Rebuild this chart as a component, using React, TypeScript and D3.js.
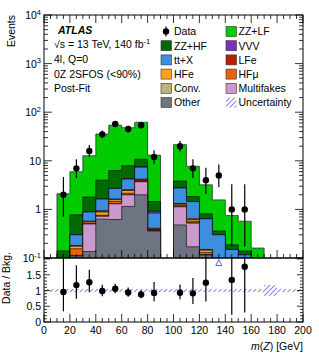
import React from 'react'
import * as d3 from 'd3'

// bins (lower edges, 10 GeV wide)
const binLow = [10, 20, 30, 40, 50, 60, 70, 80, 90, 100, 110, 120, 130, 140, 150, 160, 170]
const binWidth = 10

// stacked backgrounds, bottom to top
const keys = ['Other', 'Multifakes', 'Conv.', 'HFμ', 'HFe', 'LFe', 'tt+X', 'VVV', 'ZZ+HF', 'ZZ+LF']
const other = [0.01, 0.11, 0.136, 0.63, 0.62, 1.15, 2.0, 0.36, 0, 0.48, 0.17, 0.115, 0.03, 0.02, 0.06, 0.02, 0.002]
const multifakes = [0.005, 0.002, 0.364, 0.09, 0.68, 0.85, 1.7, 0.005, 0, 0.65, 0.35, 0.002, 0.01, 0.005, 0.03, 0, 0]
const conv = [0, 0.001, 0.005, 0.01, 0.02, 0.03, 0.02, 0.005, 0, 0.02, 0.01, 0.001, 0, 0, 0, 0, 0]
const hfmu = [0.005, 0.042, 0.015, 0.03, 0.13, 0.12, 0.05, 0.005, 0, 0.05, 0.03, 0.012, 0.005, 0, 0.005, 0, 0]
const hfe = [0.005, 0.02, 0.035, 0.12, 0.13, 0.3, 0.08, 0.01, 0, 0.08, 0.05, 0.015, 0.005, 0, 0.005, 0, 0]
const lfe = [0, 0.005, 0.02, 0.06, 0.06, 0.1, 0.35, 0.025, 0, 0.04, 0.03, 0.005, 0, 0, 0, 0, 0]
const ttx = [0.02, 0.12, 0.31, 0.69, 1.06, 1.65, 3.2, 0.43, 0, 1.43, 0.81, 0.49, 0.25, 0.125, 0.016, 0.03, 0.002]
const vvv = [0, 0.002, 0.01, 0.01, 0.02, 0.05, 0.1, 0.08, 0, 0.02, 0.01, 0.005, 0, 0, 0, 0, 0]
const zzhf = [0.095, 0.47, 0.9, 2.36, 3.58, 3.65, 3.3, 0.53, 0, 1.08, 0.38, 0.165, 0.06, 0.037, 0.024, 0.03, 0.002]
const zzlf = [1.96, 5.2, 10.9, 31.5, 47.7, 40.1, 51.2, 11.55, 0, 17.65, 5.86, 2.39, 1.21, 0.563, 0.43, 0.08, 0.006]
const series = [other, multifakes, conv, hfmu, hfe, lfe, ttx, vvv, zzhf, zzlf]
const colors = ['#6f7482', '#cc99cc', '#bdb27b', '#e8620c', '#ffa31a', '#c01c00', '#3c8edf', '#7a2fbd', '#006a00', '#00cc00']

// data with poisson intervals
const data = [2, 7, 16, 35, 57, 45, 54, 12, null, 20, 7, 4, 5, 1, 1, null, null]
const dataLo = [0.71, 4.42, 12.0, 29.1, 49.4, 38.3, 46.6, 8.6, null, 15.6, 4.42, 2.09, 2.84, 0.17, 0.17, null, null]
const dataHi = [4.64, 10.77, 21.1, 41.9, 65.6, 52.7, 62.4, 16.5, null, 25.6, 10.77, 7.16, 8.38, 3.3, 3.3, null, null]

// relative uncertainty of the total background
const uncMain = [0.03, 0.03, 0.03, 0.03, 0.03, 0.03, 0.03, 0.03, 0, 0.03, 0.03, 0.03, 0.03, 0.03, 0.03, 0.03, 0]
const ratioBinLow = [0, 10, 20, 30, 40, 50, 60, 70, 80, 90, 100, 110, 120, 130, 140, 150, 160, 170, 180, 190]
const uncRatio = [0.05, 0.05, 0.05, 0.05, 0.05, 0.05, 0.05, 0.05, 0.05, 0.05, 0.05, 0.05, 0.05, 0.05, 0.05, 0.05, 0.05, 0.17, 0.05, 0.05]

const xTicks = [0, 20, 40, 60, 80, 100, 120, 140, 160, 180, 200]
const yDecades = [0.1, 1, 10, 100, 1000, 10000]
const yDecadeLabels = [['10', '-1'], ['1', ''], ['10', ''], ['10', '2'], ['10', '3'], ['10', '4']]
const ratioTicks = [0, 0.5, 1, 1.5]

const legendLeft = ['Data', 'ZZ+HF', 'tt+X', 'HFe', 'Conv.', 'Other']
const legendRight = ['ZZ+LF', 'VVV', 'LFe', 'HFμ', 'Multifakes', 'Uncertainty']

const W = 319, H = 360
const L = 44, R = 303
const mainTop = 15, mainBot = 258
const ratioTop = 258, ratioBot = 322
const font = '"Liberation Sans", Arial, Helvetica, sans-serif'
const fs = 10.5
const hatchColor = '#7272ff'

const App = () => {
  const x = d3.scaleLinear().domain([0, 200]).range([L, R])
  const y = d3.scaleLog().domain([0.1, 1e4]).range([mainBot, mainTop])
  const yr = d3.scaleLinear().domain([0, 2]).range([ratioBot, 259])

  const rows = binLow.map((_, i) => {
    const o: any = {}
    keys.forEach((k, j) => (o[k] = series[j][i]))
    return o
  })
  const stacked = d3.stack().keys(keys)(rows)
  const total = binLow.map((_, i) => stacked[keys.length - 1][i][1])

  const yBase = mainBot + 6
  const stepPath = (tops: number[]) => {
    let p = `M${x(binLow[0])},${yBase}`
    tops.forEach((t, i) => {
      const yy = t > 0 ? Math.min(y(t), yBase) : yBase
      p += `L${x(binLow[i])},${yy}L${x(binLow[i] + binWidth)},${yy}`
    })
    p += `L${x(binLow[binLow.length - 1] + binWidth)},${yBase}Z`
    return p
  }

  const majorLen = 8, minorLen = 4
  const xMinor = d3.range(0, 201, 5).filter(v => v % 20 !== 0)
  const yMinor: number[] = []
  yDecades.slice(0, -1).forEach(d => d3.range(2, 10).forEach(m => yMinor.push(m * d)))
  const rMinor = d3.range(0.1, 2, 0.1).filter(v => Math.abs(v * 2 - Math.round(v * 2)) > 0.01)

  const ticks: JSX.Element[] = []
  const tk = (x1: number, y1: number, x2: number, y2: number) =>
    ticks.push(<line key={ticks.length} x1={x1} y1={y1} x2={x2} y2={y2} stroke="#000" strokeWidth={0.8} />)
  // x ticks on main (bottom+top) and ratio (bottom)
  xTicks.forEach(v => {
    tk(x(v), mainBot, x(v), mainBot - majorLen)
    tk(x(v), mainTop, x(v), mainTop + majorLen)
    tk(x(v), ratioBot, x(v), ratioBot - majorLen)
  })
  xMinor.forEach(v => {
    tk(x(v), mainBot, x(v), mainBot - minorLen)
    tk(x(v), mainTop, x(v), mainTop + minorLen)
    tk(x(v), ratioBot, x(v), ratioBot - minorLen)
  })
  yDecades.forEach(v => {
    tk(L, y(v), L + majorLen, y(v))
    tk(R, y(v), R - majorLen, y(v))
  })
  yMinor.forEach(v => {
    tk(L, y(v), L + minorLen, y(v))
    tk(R, y(v), R - minorLen, y(v))
  })
  ;[0, 0.5, 1, 1.5, 2].forEach(v => {
    tk(L, yr(v), L + 6, yr(v))
    tk(R, yr(v), R - 6, yr(v))
  })
  rMinor.forEach(v => {
    tk(L, yr(v), L + 3, yr(v))
    tk(R, yr(v), R - 3, yr(v))
  })

  const rowY = (i: number) => 31.5 + 14.2 * i

  return (
    <svg width={W} height={H} style={{ position: 'absolute', left: 0, top: 0, background: '#fff' }}
      fontFamily={font} fontSize={fs}>
      <defs>
        <clipPath id="mainClip"><rect x={L} y={mainTop} width={R - L} height={mainBot - mainTop} /></clipPath>
        <clipPath id="ratioClip"><rect x={L} y={ratioTop} width={R - L} height={ratioBot - ratioTop} /></clipPath>
        <pattern id="hatch" width={3.5} height={3.5} patternUnits="userSpaceOnUse" patternTransform="rotate(45)">
          <line x1={0.5} y1={0} x2={0.5} y2={3.5} stroke={hatchColor} strokeWidth={0.9} />
        </pattern>
      </defs>
      <rect width={W} height={H} fill="#fff" />

      {/* main stack, drawn as cumulative histograms from the top down */}
      <g clipPath="url(#mainClip)">
        {keys.map((k, j) => keys.length - 1 - j).map(j => (
          <path key={keys[j]} d={stepPath(stacked[j].map(d => d[1]))}
            fill={colors[j]} stroke="#000" strokeWidth={0.6} />
        ))}
        {binLow.map((b, i) => total[i] * uncMain[i] > 0 ? (
          <rect key={'u' + i} x={x(b)} width={x(b + binWidth) - x(b)}
            y={y(total[i] * (1 + uncMain[i]))}
            height={y(total[i] * (1 - uncMain[i])) - y(total[i] * (1 + uncMain[i]))}
            fill="url(#hatch)" />
        ) : null)}
        {binLow.map((b, i) => data[i] != null ? (
          <g key={'d' + i}>
            <line x1={x(b + 5)} x2={x(b + 5)} y1={y(dataLo[i] as number)} y2={y(dataHi[i] as number)}
              stroke="#000" strokeWidth={1.2} />
            <circle cx={x(b + 5)} cy={y(data[i] as number)} r={3.2} fill="#000" />
          </g>
        ) : null)}
      </g>

      {/* ratio panel */}
      <g clipPath="url(#ratioClip)">
        {ratioBinLow.map((b, i) => (
          <rect key={'ru' + i} x={x(b)} width={x(b + 10) - x(b)}
            y={yr(1 + uncRatio[i])} height={yr(1 - uncRatio[i]) - yr(1 + uncRatio[i])}
            fill="url(#hatch)" />
        ))}
        {binLow.map((b, i) => {
          if (data[i] == null) return null
          const r = (data[i] as number) / total[i]
          const cx = x(b + 5)
          if (r > 2) {
            return <polygon key={'rt' + i} points={`${cx},${259.5} ${cx - 3},${265.5} ${cx + 3},${265.5}`}
              fill="none" stroke="#5f5fff" strokeWidth={1} />
          }
          return (
            <g key={'rd' + i}>
              <line x1={cx} x2={cx} y1={yr((dataLo[i] as number) / total[i])} y2={yr(Math.min(2.2, (dataHi[i] as number) / total[i]))}
                stroke="#000" strokeWidth={1.2} />
              <circle cx={cx} cy={yr(r)} r={3.2} fill="#000" />
            </g>
          )
        })}
      </g>

      {ticks}
      <rect x={L} y={mainTop} width={R - L} height={mainBot - mainTop} fill="none" stroke="#000" strokeWidth={1} />
      <rect x={L} y={ratioTop} width={R - L} height={ratioBot - ratioTop} fill="none" stroke="#000" strokeWidth={1} />

      {/* axis labels */}
      {yDecades.map((v, i) => (
        <text key={'yl' + i} x={41} y={y(v) + 4} textAnchor="end">
          {yDecadeLabels[i][0]}
          {yDecadeLabels[i][1] ? <tspan dy={-4.5} fontSize={7.5}>{yDecadeLabels[i][1]}</tspan> : null}
        </text>
      ))}
      {ratioTicks.map(v => (
        <text key={'rl' + v} x={41} y={yr(v) + 4} textAnchor="end">{v}</text>
      ))}
      {xTicks.map(v => (
        <text key={'xl' + v} x={x(v)} y={334} textAnchor="middle">{v}</text>
      ))}
      <text x={R} y={350} textAnchor="end">
        <tspan fontStyle="italic">m</tspan>(<tspan fontStyle="italic">Z</tspan>) [GeV]
      </text>
      <text transform={`translate(15,${mainTop}) rotate(-90)`} textAnchor="end">Events</text>
      <text transform={`translate(10,252) rotate(-90)`} textAnchor="end">Data / Bkg.</text>

      {/* annotations */}
      <text x={58} y={34} fontWeight="bold" fontStyle="italic">ATLAS</text>
      <text x={54} y={48}>√s = 13 TeV, 140 fb<tspan dy={-4} fontSize={7.5}>-1</tspan></text>
      <text x={54} y={63}>4l, Q=0</text>
      <text x={54} y={77.5}>0Z 2SFOS (&lt;90%)</text>
      <text x={54} y={92}>Post-Fit</text>

      {/* legend */}
      <line x1={166} x2={166} y1={rowY(0) - 5} y2={rowY(0) + 5} stroke="#000" strokeWidth={1.2} />
      <circle cx={166} cy={rowY(0)} r={3.2} fill="#000" />
      {legendLeft.map((t, i) => {
        const j = keys.indexOf(t)
        return (
          <g key={'ll' + t}>
            {j >= 0 ? <rect x={161} y={rowY(i) - 5} width={10.5} height={10} fill={colors[j]} stroke="#333" strokeWidth={0.6} /> : null}
            <text x={174} y={rowY(i) + 3.8}>{t}</text>
          </g>
        )
      })}
      {legendRight.map((t, i) => {
        const j = keys.indexOf(t)
        return (
          <g key={'lr' + t}>
            {j >= 0
              ? <rect x={226} y={rowY(i) - 5} width={10.5} height={10} fill={colors[j]} stroke="#333" strokeWidth={0.6} />
              : <rect x={226} y={rowY(i) - 5} width={10.5} height={10} fill="url(#hatch)" />}
            <text x={238.5} y={rowY(i) + 3.8}>{t}</text>
          </g>
        )
      })}
    </svg>
  )
}

export default App
